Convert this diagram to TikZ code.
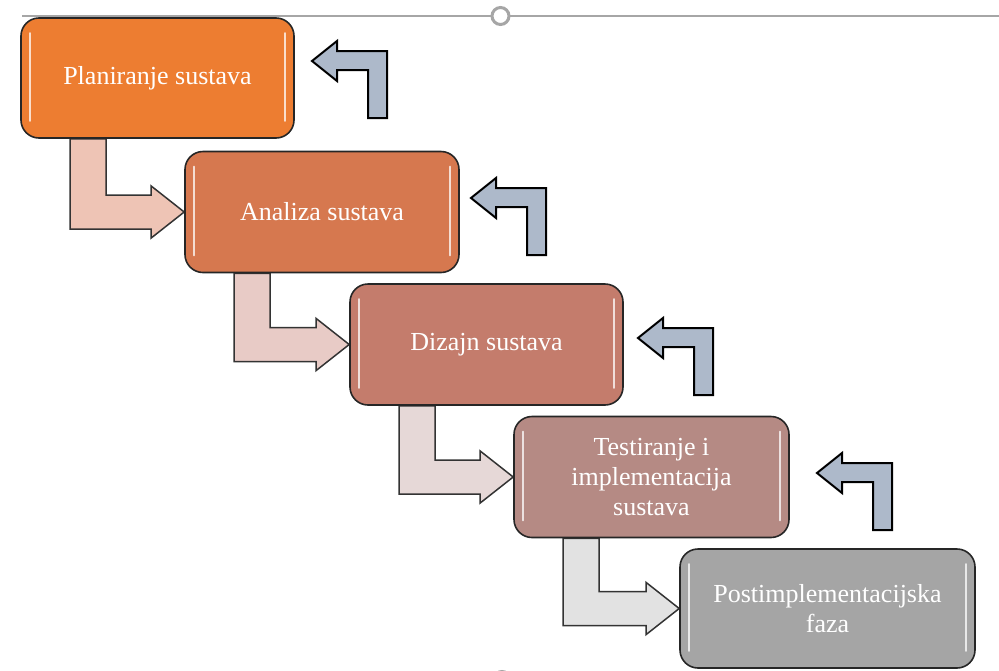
\documentclass[tikz,border=0pt]{standalone}
\usepackage{fontspec}
\setmainfont{Liberation Serif}
\usetikzlibrary{calc}
\definecolor{cA}{HTML}{ED7D31}
\definecolor{cB}{HTML}{D6784F}
\definecolor{cC}{HTML}{C47C6C}
\definecolor{cD}{HTML}{B58A84}
\definecolor{cE}{HTML}{A5A5A5}
\definecolor{aA}{HTML}{EEC4B5}
\definecolor{aB}{HTML}{E8CBC6}
\definecolor{aC}{HTML}{E6D8D7}
\definecolor{aD}{HTML}{E2E2E2}
\definecolor{backblue}{HTML}{ADB9CA}
\definecolor{handle}{HTML}{A6A6A6}
\pgfdeclarelayer{bg}
\pgfsetlayers{bg,main}
\tikzset{
  box/.style={draw=black!85, line width=1.6pt, rounded corners=18pt, text=white,
    align=center, font=\fontsize{26}{30}\selectfont, inner sep=4pt},
  gloss/.style={draw=white, opacity=0.75, line width=2.2pt, line cap=round},
  steparrow/.style={draw=black!80, line width=1.5pt, line join=miter},
  backarrow/.style={draw=black, fill=backblue, line width=2pt, line join=miter},
  handleline/.style={draw=handle, line width=1.3pt},
  handlecircle/.style={draw=handle, fill=white, line width=3pt}
}
\newcommand\stepArrow[3]{%
  \draw[steparrow, fill=#3] let \p1=(#1.south west), \p2=(#2.west) in
    (\x1+50pt,\y1) -- (\x1+86pt,\y1) -- (\x1+86pt,\y2+17pt) -- (\x2-33pt,\y2+17pt)
    -- (\x2-33pt,\y2+26pt) -- (\p2) -- (\x2-33pt,\y2-26pt) -- (\x2-33pt,\y2-17pt)
    -- (\x1+50pt,\y2-17pt) -- cycle;}
\newcommand\backArrow[2]{%
  \draw[backarrow] (#1,#2) -- (#1+25,#2-20) -- (#1+25,#2-10) -- (#1+75,#2-10)
    -- (#1+75,#2+57) -- (#1+56,#2+57) -- (#1+56,#2+9) -- (#1+25,#2+9)
    -- (#1+25,#2+20) -- cycle;}
\newcommand\glossBox[1]{%
  \draw[gloss] ([xshift=10pt,yshift=-16pt]#1.north west) -- ([xshift=10pt,yshift=18pt]#1.south west);
  \draw[gloss] ([xshift=-10pt,yshift=-16pt]#1.north east) -- ([xshift=-10pt,yshift=18pt]#1.south east);}
\begin{document}
\begin{tikzpicture}[x=1pt,y=-1pt]
\useasboundingbox (0,0) rectangle (999,670);
% top handle line
\draw[handleline] (22,16) -- (999,16);
\draw[handlecircle] (500.5,16) circle (8.5);
\draw[handlecircle] (502,680) circle (8.5);

% boxes
\node[box, fill=cA, minimum width=273pt, minimum height=120pt] (b1) at (157.5,78) {Planiranje sustava};
\node[box, fill=cB, minimum width=274pt, minimum height=121pt] (b2) at (322,212) {Analiza sustava};
\node[box, fill=cC, minimum width=273pt, minimum height=121pt] (b3) at (486.5,344.5) {Dizajn sustava};
\node[box, fill=cD, minimum width=275pt, minimum height=121pt] (b4) at (651.5,477) {Testiranje i\\implementacija\\sustava};
\node[box, fill=cE, minimum width=295pt, minimum height=119pt] (b5) at (827.5,608.5) {Postimplementacijska\\faza};

\glossBox{b1}
\glossBox{b2}
\glossBox{b3}
\glossBox{b4}
\glossBox{b5}

\begin{pgfonlayer}{bg}
\stepArrow{b1}{b2}{aA}
\stepArrow{b2}{b3}{aB}
\stepArrow{b3}{b4}{aC}
\stepArrow{b4}{b5}{aD}
\end{pgfonlayer}

% back arrows
\backArrow{312}{61}
\backArrow{471}{198}
\backArrow{638}{338}
\backArrow{817}{473}
\end{tikzpicture}
\end{document}
